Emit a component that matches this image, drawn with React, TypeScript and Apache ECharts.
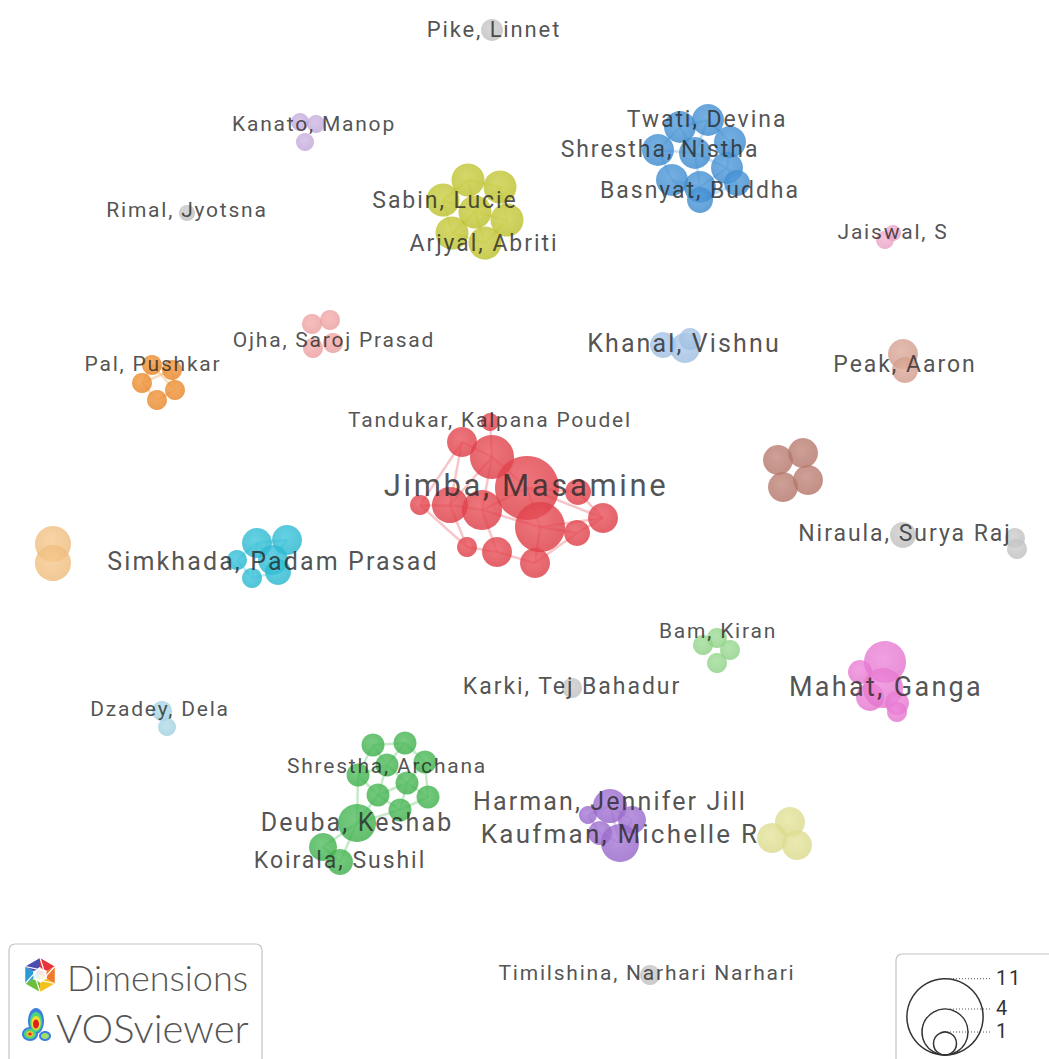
import React, { useEffect, useRef } from 'react';
import * as echarts from 'echarts';

// ---- cluster colours ----
const clusterColors = [
  '#e63c46', // 0 red (Jimba)
  '#3b8ed6', // 1 blue (Twati/Basnyat)
  '#c3c72b', // 2 yellow (Sabin/Arjyal)
  '#3db54b', // 3 green (Deuba)
  '#9b68d0', // 4 purple (Harman/Kaufman)
  '#25bdd7', // 5 cyan (Simkhada)
  '#f08a26', // 6 orange (Pal)
  '#f6c27f', // 7 light orange
  '#f4a2a2', // 8 salmon (Ojha)
  '#c8ade0', // 9 lavender (Kanato)
  '#a4c4e8', // 10 light blue (Khanal)
  '#b9786a', // 11 brown
  '#d8a08e', // 12 peach (Peak)
  '#ec78d6', // 13 magenta (Mahat)
  '#92d888', // 14 light green (Bam)
  '#e2e290', // 15 pale yellow
  '#f3a6cc', // 16 pink (Jaiswal)
  '#a6d8e8', // 17 pale cyan (Dzadey)
  '#c6c6c6', // 18 gray (singletons)
];

// ---- nodes (map coordinates) ----
const nodeX = [
  490, 462, 492, 527, 420, 450, 482, 540, 578, 603, 577, 467, 497, 535,
  680, 708, 730, 658, 695, 727, 672, 700, 737, 700,
  468, 500, 443, 475, 507, 452, 485,
  373, 405, 425, 358, 387, 407, 378, 428, 400, 357, 323, 340,
  588, 610, 632, 600, 620,
  257, 287, 237, 273, 278, 252,
  152, 172, 142, 175, 157,
  53, 53,
  312, 330, 313, 333,
  300, 316, 305,
  663, 685, 690,
  778, 803, 783, 808,
  903, 905,
  885, 860, 870, 883, 897, 897,
  717, 703, 730, 717,
  790, 772, 797,
  885, 893,
  162, 167,
  492, 187, 903, 1015, 1017, 572, 650,
];
const nodeY = [
  422, 442, 457, 488, 505, 505, 510, 527, 492, 518, 533, 547, 552, 563,
  127, 120, 142, 150, 153, 168, 180, 187, 183, 200,
  180, 187, 200, 212, 220, 233, 243,
  745, 743, 762, 775, 765, 783, 795, 797, 810, 823, 847, 862,
  815, 806, 820, 833, 843,
  543, 540, 560, 560, 572, 578,
  365, 370, 383, 390, 400,
  544, 563,
  324, 320, 348, 343,
  122, 124, 142,
  345, 348, 339,
  460, 453, 487, 480,
  354, 370,
  662, 672, 697, 688, 703, 712,
  638, 645, 650, 663,
  822, 838, 845,
  240, 233,
  711, 727,
  30, 213, 535, 538, 549, 688, 975,
];
const nodeR = [
  9, 15, 22, 32, 10, 18, 20, 25, 13, 15, 13, 10, 15, 15,
  16, 16, 16, 16, 16, 16, 16, 16, 13, 13,
  16.5, 16.5, 16.5, 16.5, 16.5, 16.5, 16.5,
  11.5, 11.5, 11.5, 11.5, 11.5, 11.5, 11.5, 11.5, 11.5, 19, 14, 13,
  9, 17, 14, 12, 19,
  15, 15, 10, 15, 13, 10,
  10, 10, 10, 10, 10,
  18, 18,
  10, 10, 10, 10,
  9, 9, 9,
  13, 15, 11,
  15, 15, 15, 15,
  15, 13,
  21, 12, 14, 20, 12, 10,
  10, 10, 10, 10,
  15, 15, 15,
  9, 8,
  10, 9,
  11, 8, 13, 10, 10, 10, 10,
];
const nodeCluster = [
  0, 0, 0, 0, 0, 0, 0, 0, 0, 0, 0, 0, 0, 0,
  1, 1, 1, 1, 1, 1, 1, 1, 1, 1,
  2, 2, 2, 2, 2, 2, 2,
  3, 3, 3, 3, 3, 3, 3, 3, 3, 3, 3, 3,
  4, 4, 4, 4, 4,
  5, 5, 5, 5, 5, 5,
  6, 6, 6, 6, 6,
  7, 7,
  8, 8, 8, 8,
  9, 9, 9,
  10, 10, 10,
  11, 11, 11, 11,
  12, 12,
  13, 13, 13, 13, 13, 13,
  14, 14, 14, 14,
  15, 15, 15,
  16, 16,
  17, 17,
  18, 18, 18, 18, 18, 18, 18,
];

// ---- links (node index pairs) ----
const edgeFrom = [
  0, 1, 1, 1, 2, 2, 2, 3, 3, 3, 4, 4, 5, 5, 6, 6, 7, 7, 7, 8, 9, 10, 11, 12, 3,
  14, 14, 14, 15, 15, 16, 17, 17, 18, 18, 19, 20, 21, 19, 20, 22,
  24, 24, 24, 25, 25, 26, 26, 27, 27, 27, 28, 29,
  31, 31, 31, 32, 32, 33, 33, 34, 34, 35, 35, 36, 36, 36, 37, 38, 37, 39, 40, 40, 41, 34,
  43, 44, 44, 46, 45, 43,
  48, 48, 48, 49, 51, 50, 52, 48,
  54, 54, 55, 56, 57, 54, 55,
];
const edgeTo = [
  2, 2, 4, 5, 3, 5, 6, 6, 7, 8, 5, 11, 6, 11, 7, 12, 9, 10, 13, 9, 10, 13, 12, 13, 9,
  15, 17, 18, 16, 18, 19, 18, 20, 19, 21, 22, 21, 23, 21, 23, 23,
  25, 26, 27, 27, 28, 27, 29, 28, 29, 30, 30, 30,
  32, 34, 35, 33, 35, 36, 38, 35, 37, 36, 37, 37, 38, 39, 39, 39, 40, 40, 41, 42, 42, 40,
  44, 45, 47, 47, 47, 46,
  49, 50, 51, 51, 52, 53, 53, 53,
  55, 56, 57, 58, 58, 57, 56,
];

// ---- labels ----
const labelText = [
  'Pike, Linnet', 'Kanato, Manop', 'Twati, Devina', 'Shrestha, Nistha', 'Basnyat, Buddha',
  'Rimal, Jyotsna', 'Sabin, Lucie', 'Arjyal, Abriti', 'Jaiswal, S', 'Ojha, Saroj Prasad',
  'Khanal, Vishnu', 'Pal, Pushkar', 'Peak, Aaron', 'Tandukar, Kalpana Poudel', 'Jimba, Masamine',
  'Niraula, Surya Raj', 'Simkhada, Padam Prasad', 'Bam, Kiran', 'Karki, Tej Bahadur', 'Mahat, Ganga',
  'Dzadey, Dela', 'Shrestha, Archana', 'Harman, Jennifer Jill', 'Deuba, Keshab', 'Kaufman, Michelle R',
  'Koirala, Sushil', 'Timilshina, Narhari Narhari',
];
const labelX = [
  494, 314, 707, 660, 700,
  187, 445, 484, 893, 334,
  684, 153, 905, 490, 526,
  905, 273, 718, 572, 886,
  160, 387, 610, 357, 620,
  340, 647,
];
const labelY = [
  29, 124, 119, 149, 190,
  210, 200, 243, 232, 340,
  343, 364, 364, 420, 485,
  533, 561, 631, 686, 687,
  709, 766, 801, 822, 834,
  860, 973,
];
const labelFont = [
  22, 21, 23, 23, 23,
  21, 23, 23, 21, 21,
  25, 21, 23, 21, 31,
  23, 25, 21, 23, 27,
  21, 21, 25, 25, 26,
  23, 21,
];

// ---- size legend ----
const legendValues = [11, 4, 1];

function lighten(hex: string, amt: number): string {
  const n = parseInt(hex.slice(1), 16);
  const r = (n >> 16) & 255, g = (n >> 8) & 255, b = n & 255;
  const f = (c: number) => Math.round(c + (255 - c) * amt);
  return `rgb(${f(r)},${f(g)},${f(b)})`;
}
function darken(hex: string, amt: number): string {
  const n = parseInt(hex.slice(1), 16);
  const r = (n >> 16) & 255, g = (n >> 8) & 255, b = n & 255;
  const f = (c: number) => Math.round(c * (1 - amt));
  return `rgb(${f(r)},${f(g)},${f(b)})`;
}

export default function App() {
  const ref = useRef<HTMLDivElement>(null);

  useEffect(() => {
    document.body.style.margin = '0';
    if (!ref.current) return;
    const chart = echarts.init(ref.current, undefined, { renderer: 'svg' });

    const edgeData = edgeFrom.map((a, i) => {
      const b = edgeTo[i];
      return {
        coords: [[nodeX[a], nodeY[a]], [nodeX[b], nodeY[b]]],
        lineStyle: { color: lighten(clusterColors[nodeCluster[a]], 0.35) },
      };
    });

    const nodeData = nodeX.map((x, i) => {
      const base = clusterColors[nodeCluster[i]];
      return {
        value: [x, nodeY[i], nodeR[i]],
        itemStyle: {
          color: new echarts.graphic.RadialGradient(0.45, 0.4, 0.6, [
            { offset: 0, color: lighten(base, 0.12) },
            { offset: 1, color: darken(base, 0.04) },
          ]),
          opacity: 0.8,
        },
      };
    });

    const labelData = labelText.map((t, i) => ({
      name: t,
      value: [labelX[i], labelY[i]],
      label: { fontSize: labelFont[i] },
    }));

    // size legend geometry (r = 11.5 * sqrt(value))
    const lgCx = 945, lgBottom = 1055;
    const legendEls: any[] = [];
    legendValues.forEach((v) => {
      const r = 11.5 * Math.sqrt(v);
      const top = lgBottom - 2 * r;
      legendEls.push({
        type: 'circle',
        shape: { cx: lgCx, cy: lgBottom - r, r },
        style: { fill: 'none', stroke: '#333', lineWidth: 1.5 },
      });
      legendEls.push({
        type: 'line',
        shape: { x1: lgCx + 5, y1: top, x2: 990, y2: top },
        style: { stroke: '#555', lineWidth: 1, lineDash: [1, 2] },
      });
      legendEls.push({
        type: 'text',
        x: 996,
        y: top - 1,
        style: {
          text: String(v), fill: '#333', fontSize: 20, fontFamily: 'Roboto',
          verticalAlign: 'middle', align: 'left',
        },
      });
    });

    const hexC = [40, 975];
    const hexR = 17;
    const hv: number[][] = [];
    for (let k = 0; k < 6; k++) {
      const ang = (-90 + 60 * k) * Math.PI / 180;
      hv.push([hexC[0] + hexR * Math.cos(ang), hexC[1] + hexR * Math.sin(ang)]);
    }
    const hexColors = ['#e8323c', '#f07a2a', '#f5c21b', '#6cbf3c', '#2a9bd4', '#4a4fb0'];
    const hexEls: any[] = hv.map((p, k) => ({
      type: 'polygon',
      shape: { points: [hexC, p, hv[(k + 1) % 6]] },
      style: { fill: hexColors[k] },
    }));
    hexEls.push({
      type: 'polygon',
      shape: {
        points: hv.map((p) => [hexC[0] + (p[0] - hexC[0]) * 0.45, hexC[1] + (p[1] - hexC[1]) * 0.45]),
      },
      style: { fill: '#fff', opacity: 0.85 },
    });
    hv.forEach((p, k) => {
      hexEls.push({
        type: 'line',
        shape: { x1: p[0], y1: p[1], x2: hexC[0] + (hv[(k + 2) % 6][0] - hexC[0]) * 0.45, y2: hexC[1] + (hv[(k + 2) % 6][1] - hexC[1]) * 0.45 },
        style: { stroke: '#fff', lineWidth: 1.2 },
      });
    });

    const vosEls: any[] = [
      { type: 'ellipse', shape: { cx: 36, cy: 1021, rx: 8, ry: 13 }, style: { fill: '#3d7fe0' } },
      { type: 'ellipse', shape: { cx: 30, cy: 1034, rx: 8, ry: 7 }, style: { fill: '#3d7fe0' } },
      { type: 'ellipse', shape: { cx: 45, cy: 1036, rx: 6, ry: 5 }, style: { fill: '#3d7fe0' } },
      { type: 'ellipse', shape: { cx: 36, cy: 1022, rx: 6, ry: 10 }, style: { fill: '#4cd67a' } },
      { type: 'ellipse', shape: { cx: 30, cy: 1034, rx: 6, ry: 5 }, style: { fill: '#4cd67a' } },
      { type: 'ellipse', shape: { cx: 45, cy: 1036, rx: 4, ry: 3 }, style: { fill: '#9ee06a' } },
      { type: 'ellipse', shape: { cx: 36, cy: 1023, rx: 4.5, ry: 7 }, style: { fill: '#f2e030' } },
      { type: 'ellipse', shape: { cx: 30, cy: 1034, rx: 3.5, ry: 3 }, style: { fill: '#f2c030' } },
      { type: 'ellipse', shape: { cx: 36, cy: 1024, rx: 3, ry: 4.5 }, style: { fill: '#e02020' } },
      { type: 'ellipse', shape: { cx: 30, cy: 1034, rx: 1.8, ry: 1.6 }, style: { fill: '#e03020' } },
    ];

    chart.setOption({
      animation: false,
      backgroundColor: '#ffffff',
      grid: { left: 0, right: 0, top: 0, bottom: 0 },
      xAxis: { type: 'value', min: 0, max: 1049, show: false },
      yAxis: { type: 'value', min: 0, max: 1059, inverse: true, show: false },
      series: [
        {
          type: 'lines',
          coordinateSystem: 'cartesian2d',
          data: edgeData,
          lineStyle: { width: 2.5, opacity: 0.45 },
          silent: true,
          z: 1,
        },
        {
          type: 'scatter',
          data: nodeData,
          symbolSize: (v: number[]) => v[2] * 2,
          silent: true,
          z: 2,
        },
        {
          type: 'scatter',
          data: labelData,
          symbolSize: 1,
          itemStyle: { color: 'rgba(0,0,0,0)' },
          silent: true,
          z: 3,
          label: {
            show: true,
            position: 'inside',
            formatter: '{b}',
            color: '#262626',
            fontFamily: 'Roboto',
            align: 'center',
            verticalAlign: 'middle',
          },
        },
      ],
      graphic: [
        {
          type: 'group',
          silent: true,
          children: [
            {
              type: 'rect',
              shape: { x: 9, y: 944, width: 253, height: 140, r: 6 },
              style: { fill: '#fff', stroke: '#c4c4c4', lineWidth: 1.2 },
            },
            ...hexEls,
            {
              type: 'text',
              x: 67,
              y: 977,
              style: {
                text: 'Dimensions', fill: '#555', fontSize: 36, fontWeight: 300,
                fontFamily: 'Lato', verticalAlign: 'middle', align: 'left',
              },
            },
            ...vosEls,
            {
              type: 'text',
              x: 56,
              y: 1028,
              style: {
                text: 'VOSviewer', fill: '#555', fontSize: 40, fontWeight: 300,
                fontFamily: 'Lato', verticalAlign: 'middle', align: 'left',
              },
            },
            {
              type: 'rect',
              shape: { x: 896, y: 954, width: 200, height: 150, r: 6 },
              style: { fill: '#fff', stroke: '#c4c4c4', lineWidth: 1.2 },
            },
            ...legendEls,
          ],
        },
      ],
    });

    return () => chart.dispose();
  }, []);

  return (
    <>
      <style>{`
        .vos-chart text { letter-spacing: 0.085em; }
        .vos-chart text[style*="Lato"] { letter-spacing: 0; }
      `}</style>
      <div
        ref={ref}
        className="vos-chart"
        style={{ position: 'absolute', left: 0, top: 0, width: 1049, height: 1059, overflow: 'hidden' }}
      />
    </>
  );
}
